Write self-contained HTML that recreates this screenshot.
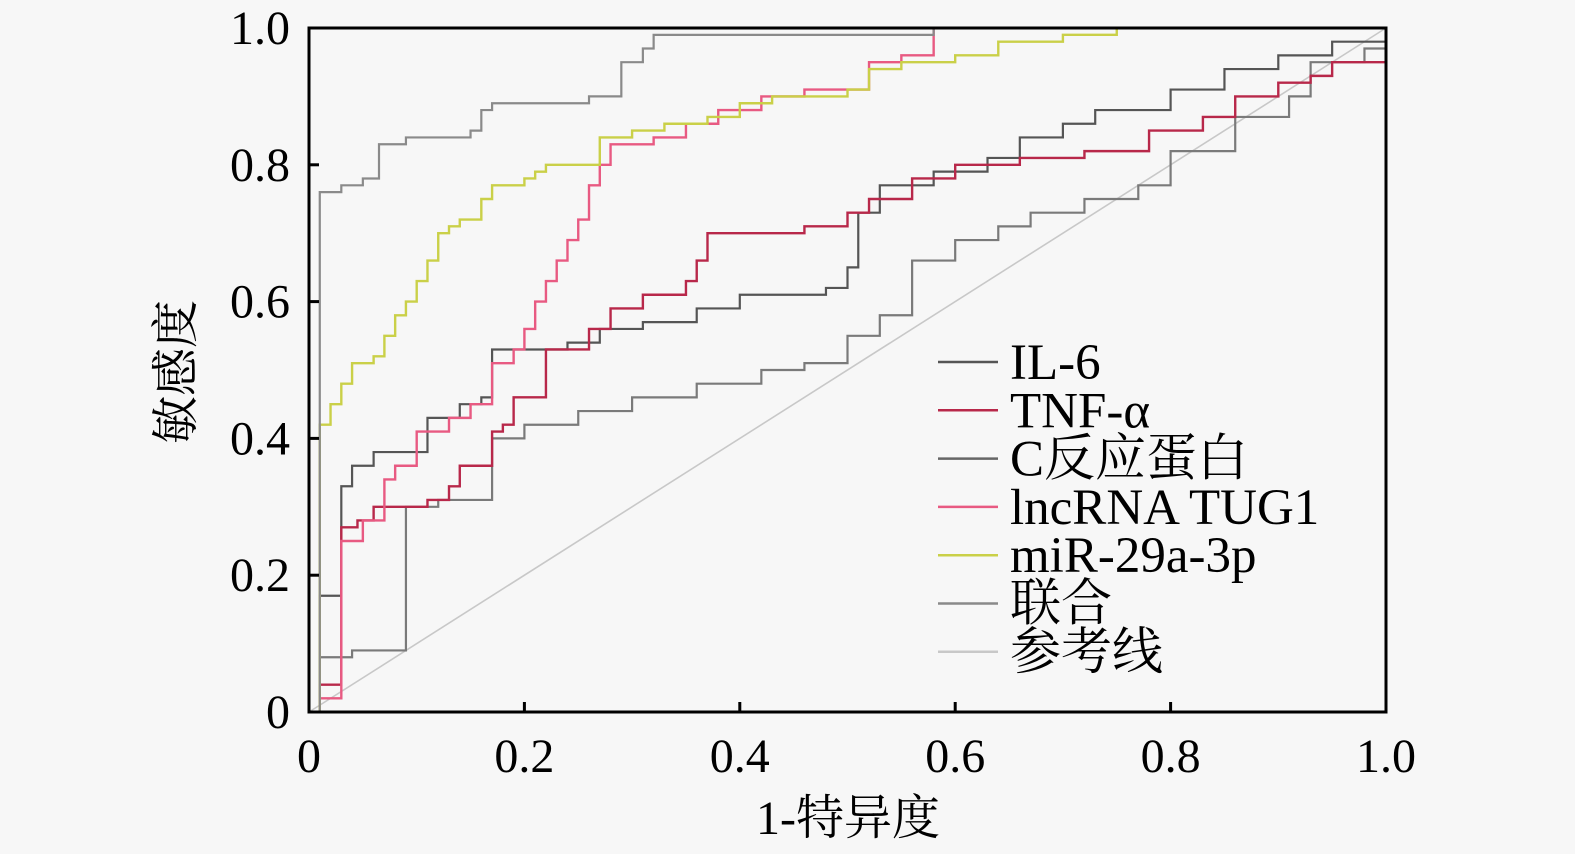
<!DOCTYPE html>
<html><head><meta charset="utf-8"><style>
html,body{margin:0;padding:0;background:#f7f7f7;}
svg{display:block;font-family:"Liberation Serif","Noto Serif CJK SC",serif;}
</style></head><body>
<svg id="chart" width="1575" height="854" viewBox="0 0 1575 854" xmlns="http://www.w3.org/2000/svg">
<rect x="0" y="0" width="1575" height="854" fill="#f7f7f7"/>
<g id="curves"></g>
<rect x="309" y="28" width="1077" height="684" fill="none" stroke="#000" stroke-width="3"/>
<g id="ticks"></g>
<text x="848" y="834" font-size="48" text-anchor="middle">1-特异度</text>
<text transform="translate(192,372) rotate(-90)" font-size="48" text-anchor="middle">敏感度</text>
<g id="legend"></g>
</svg>
<script>
const NS="http://www.w3.org/2000/svg";
const xTicks=[0,0.2,0.4,0.6,0.8,1.0];
const xTickLabels=["0","0.2","0.4","0.6","0.8","1.0"];
const yTicks=[0,0.2,0.4,0.6,0.8,1.0];
const yTickLabels=["0","0.2","0.4","0.6","0.8","1.0"];
const seriesNames=["IL-6","TNF-α","C反应蛋白","lncRNA TUG1","miR-29a-3p","联合","参考线"];
const il6Fpr=[0,0.01,0.03,0.03,0.04,0.06,0.09,0.11,0.14,0.16,0.17,0.24,0.27,0.31,0.36,0.40,0.48,0.50,0.51,0.53,0.58,0.63,0.66,0.70,0.73,0.80,0.85,0.90,0.95,1];
const il6Tpr=[0,0.17,0.19,0.33,0.36,0.38,0.38,0.43,0.45,0.46,0.53,0.54,0.56,0.57,0.59,0.61,0.62,0.65,0.73,0.77,0.79,0.81,0.84,0.86,0.88,0.91,0.94,0.96,0.98,1];
const tnfFpr=[0,0.01,0.03,0.03,0.045,0.06,0.11,0.13,0.14,0.17,0.18,0.19,0.22,0.22,0.26,0.28,0.31,0.35,0.36,0.37,0.46,0.50,0.52,0.56,0.60,0.66,0.72,0.78,0.83,0.86,0.90,0.93,0.95,1,1];
const tnfTpr=[0,0.04,0.06,0.27,0.28,0.30,0.31,0.33,0.36,0.41,0.42,0.46,0.46,0.53,0.56,0.59,0.61,0.63,0.66,0.70,0.71,0.73,0.75,0.78,0.80,0.81,0.82,0.85,0.87,0.90,0.92,0.93,0.95,0.95,1];
const crpFpr=[0,0.01,0.04,0.08,0.09,0.12,0.17,0.20,0.25,0.30,0.36,0.42,0.46,0.50,0.53,0.56,0.60,0.64,0.67,0.72,0.77,0.80,0.86,0.91,0.93,0.98,1];
const crpTpr=[0,0.08,0.09,0.09,0.30,0.31,0.40,0.42,0.44,0.46,0.48,0.50,0.51,0.55,0.58,0.66,0.69,0.71,0.73,0.75,0.77,0.82,0.87,0.90,0.95,0.97,1];
const tugFpr=[0,0.01,0.03,0.03,0.05,0.07,0.08,0.10,0.13,0.15,0.17,0.19,0.20,0.21,0.22,0.23,0.24,0.25,0.26,0.27,0.28,0.32,0.35,0.38,0.42,0.46,0.50,0.52,0.55,0.58,1];
const tugTpr=[0,0.02,0.20,0.25,0.28,0.34,0.36,0.41,0.43,0.45,0.51,0.53,0.56,0.60,0.63,0.66,0.69,0.72,0.77,0.80,0.83,0.84,0.86,0.88,0.90,0.91,0.91,0.95,0.96,1,1];
const mirFpr=[0,0.01,0.01,0.02,0.03,0.04,0.06,0.07,0.08,0.09,0.10,0.11,0.12,0.13,0.14,0.16,0.17,0.20,0.21,0.22,0.27,0.30,0.33,0.37,0.40,0.43,0.50,0.52,0.55,0.60,0.64,0.70,0.75,1];
const mirTpr=[0,0.37,0.42,0.45,0.48,0.51,0.52,0.55,0.58,0.60,0.63,0.66,0.70,0.71,0.72,0.75,0.77,0.78,0.79,0.80,0.84,0.85,0.86,0.87,0.89,0.90,0.91,0.94,0.95,0.96,0.98,0.99,1,1];
const comFpr=[0,0.01,0.01,0.03,0.05,0.065,0.09,0.15,0.16,0.17,0.26,0.29,0.31,0.32,0.58,0.78,1];
const comTpr=[0,0.65,0.76,0.77,0.78,0.83,0.84,0.85,0.88,0.89,0.90,0.95,0.97,0.99,1,1,1];
const refFpr=[0,1];
const refTpr=[0,1];
const X=v=>309+v*1077;
const Y=v=>712-v*684;
const curves=document.getElementById('curves');
function stepPath(fx,ty){
  let d="M"+X(fx[0])+","+Y(ty[0]);
  for(let i=1;i<fx.length;i++){d+=" H"+X(fx[i])+" V"+Y(ty[i]);}
  return d;
}
const defs=[
 [refFpr,refTpr,"#c8c8c8",1.6,false,"reference-line"],
 [crpFpr,crpTpr,"#7a7a7a",2.2,true,"crp-curve"],
 [il6Fpr,il6Tpr,"#555555",2.2,true,"il6-curve"],
 [tnfFpr,tnfTpr,"#b8284a",2.4,true,"tnf-curve"],
 [tugFpr,tugTpr,"#e85a82",2.4,true,"lncrna-curve"],
 [mirFpr,mirTpr,"#cad048",2.4,true,"mir-curve"],
 [comFpr,comTpr,"#8a8a8a",2.2,true,"combined-curve"]
];
for(const [fx,ty,c,w,step,name] of defs){
  const p=document.createElementNS(NS,'path');
  p.setAttribute('d',step?stepPath(fx,ty):"M"+X(fx[0])+","+Y(ty[0])+" L"+X(fx[1])+","+Y(ty[1]));
  p.setAttribute('fill','none');p.setAttribute('stroke',c);p.setAttribute('stroke-width',w);
  
  
  curves.appendChild(p);
}
const ticks=document.getElementById('ticks');
xTicks.forEach((v,i)=>{
  const l=document.createElementNS(NS,'line');
  l.setAttribute('x1',X(v));l.setAttribute('x2',X(v));l.setAttribute('y1',712);l.setAttribute('y2',702);
  l.setAttribute('stroke','#000');l.setAttribute('stroke-width',3);
  
  
  ticks.appendChild(l);
  const t=document.createElementNS(NS,'text');
  t.setAttribute('x',X(v));t.setAttribute('y',772);t.setAttribute('font-size',48);t.setAttribute('text-anchor','middle');
  t.textContent=xTickLabels[i];
  
  
  ticks.appendChild(t);
});
yTicks.forEach((v,i)=>{
  const l=document.createElementNS(NS,'line');
  l.setAttribute('x1',309);l.setAttribute('x2',319);l.setAttribute('y1',Y(v));l.setAttribute('y2',Y(v));
  l.setAttribute('stroke','#000');l.setAttribute('stroke-width',3);
  
  
  ticks.appendChild(l);
  const t=document.createElementNS(NS,'text');
  t.setAttribute('x',290);t.setAttribute('y',Y(v)+16);t.setAttribute('font-size',48);t.setAttribute('text-anchor','end');
  t.textContent=yTickLabels[i];
  
  
  ticks.appendChild(t);
});
const legColors=["#555555","#b8284a","#666666","#e85a82","#cad048","#8a8a8a","#c8c8c8"];
const legend=document.getElementById('legend');
seriesNames.forEach((n,i)=>{
  const y=362+i*48.3;
  const l=document.createElementNS(NS,'line');
  l.setAttribute('x1',938);l.setAttribute('x2',998);l.setAttribute('y1',y);l.setAttribute('y2',y);
  l.setAttribute('stroke',legColors[i]);l.setAttribute('stroke-width',2.5);
  
  
  legend.appendChild(l);
  const t=document.createElementNS(NS,'text');
  t.setAttribute('x',1010);t.setAttribute('y',y+17);t.setAttribute('font-size',51);
  t.textContent=n;
  
  
  legend.appendChild(t);
});
</script>
</body></html>
